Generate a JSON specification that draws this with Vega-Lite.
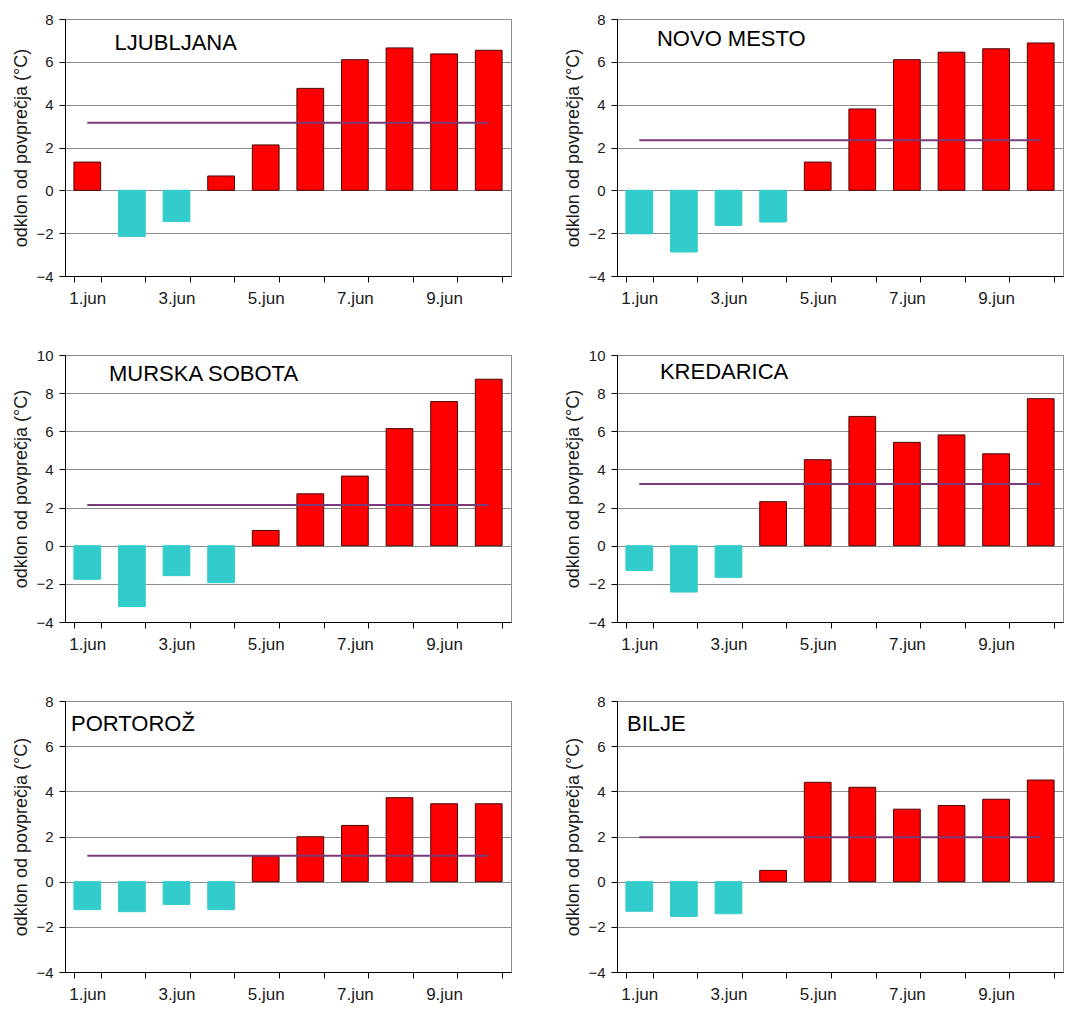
{
  "$schema": "https://vega.github.io/schema/vega-lite/v6.json",
  "padding": {"left": 12, "top": 11, "right": 0, "bottom": 0},
  "background": "white",
  "data": {"values": [
    {"station": "LJUBLJANA", "day": "1.jun", "value": 1.32, "mean": 3.16},
    {"station": "LJUBLJANA", "day": "2.jun", "value": -2.15, "mean": 3.16},
    {"station": "LJUBLJANA", "day": "3.jun", "value": -1.46, "mean": 3.16},
    {"station": "LJUBLJANA", "day": "4.jun", "value": 0.67, "mean": 3.16},
    {"station": "LJUBLJANA", "day": "5.jun", "value": 2.12, "mean": 3.16},
    {"station": "LJUBLJANA", "day": "6.jun", "value": 4.76, "mean": 3.16},
    {"station": "LJUBLJANA", "day": "7.jun", "value": 6.10, "mean": 3.16},
    {"station": "LJUBLJANA", "day": "8.jun", "value": 6.65, "mean": 3.16},
    {"station": "LJUBLJANA", "day": "9.jun", "value": 6.37, "mean": 3.16},
    {"station": "LJUBLJANA", "day": "10.jun", "value": 6.54, "mean": 3.16},
    {"station": "NOVO MESTO", "day": "1.jun", "value": -2.03, "mean": 2.34},
    {"station": "NOVO MESTO", "day": "2.jun", "value": -2.88, "mean": 2.34},
    {"station": "NOVO MESTO", "day": "3.jun", "value": -1.64, "mean": 2.34},
    {"station": "NOVO MESTO", "day": "4.jun", "value": -1.48, "mean": 2.34},
    {"station": "NOVO MESTO", "day": "5.jun", "value": 1.32, "mean": 2.34},
    {"station": "NOVO MESTO", "day": "6.jun", "value": 3.80, "mean": 2.34},
    {"station": "NOVO MESTO", "day": "7.jun", "value": 6.10, "mean": 2.34},
    {"station": "NOVO MESTO", "day": "8.jun", "value": 6.45, "mean": 2.34},
    {"station": "NOVO MESTO", "day": "9.jun", "value": 6.61, "mean": 2.34},
    {"station": "NOVO MESTO", "day": "10.jun", "value": 6.88, "mean": 2.34},
    {"station": "MURSKA SOBOTA", "day": "1.jun", "value": -1.76, "mean": 2.13},
    {"station": "MURSKA SOBOTA", "day": "2.jun", "value": -3.19, "mean": 2.13},
    {"station": "MURSKA SOBOTA", "day": "3.jun", "value": -1.57, "mean": 2.13},
    {"station": "MURSKA SOBOTA", "day": "4.jun", "value": -1.94, "mean": 2.13},
    {"station": "MURSKA SOBOTA", "day": "5.jun", "value": 0.80, "mean": 2.13},
    {"station": "MURSKA SOBOTA", "day": "6.jun", "value": 2.72, "mean": 2.13},
    {"station": "MURSKA SOBOTA", "day": "7.jun", "value": 3.65, "mean": 2.13},
    {"station": "MURSKA SOBOTA", "day": "8.jun", "value": 6.14, "mean": 2.13},
    {"station": "MURSKA SOBOTA", "day": "9.jun", "value": 7.56, "mean": 2.13},
    {"station": "MURSKA SOBOTA", "day": "10.jun", "value": 8.73, "mean": 2.13},
    {"station": "KREDARICA", "day": "1.jun", "value": -1.30, "mean": 3.24},
    {"station": "KREDARICA", "day": "2.jun", "value": -2.43, "mean": 3.24},
    {"station": "KREDARICA", "day": "3.jun", "value": -1.66, "mean": 3.24},
    {"station": "KREDARICA", "day": "4.jun", "value": 2.31, "mean": 3.24},
    {"station": "KREDARICA", "day": "5.jun", "value": 4.51, "mean": 3.24},
    {"station": "KREDARICA", "day": "6.jun", "value": 6.78, "mean": 3.24},
    {"station": "KREDARICA", "day": "7.jun", "value": 5.42, "mean": 3.24},
    {"station": "KREDARICA", "day": "8.jun", "value": 5.81, "mean": 3.24},
    {"station": "KREDARICA", "day": "9.jun", "value": 4.82, "mean": 3.24},
    {"station": "KREDARICA", "day": "10.jun", "value": 7.71, "mean": 3.24},
    {"station": "PORTOROŽ", "day": "1.jun", "value": -1.24, "mean": 1.15},
    {"station": "PORTOROŽ", "day": "2.jun", "value": -1.33, "mean": 1.15},
    {"station": "PORTOROŽ", "day": "3.jun", "value": -1.01, "mean": 1.15},
    {"station": "PORTOROŽ", "day": "4.jun", "value": -1.24, "mean": 1.15},
    {"station": "PORTOROŽ", "day": "5.jun", "value": 1.12, "mean": 1.15},
    {"station": "PORTOROŽ", "day": "6.jun", "value": 1.99, "mean": 1.15},
    {"station": "PORTOROŽ", "day": "7.jun", "value": 2.49, "mean": 1.15},
    {"station": "PORTOROŽ", "day": "8.jun", "value": 3.72, "mean": 1.15},
    {"station": "PORTOROŽ", "day": "9.jun", "value": 3.45, "mean": 1.15},
    {"station": "PORTOROŽ", "day": "10.jun", "value": 3.45, "mean": 1.15},
    {"station": "BILJE", "day": "1.jun", "value": -1.31, "mean": 1.97},
    {"station": "BILJE", "day": "2.jun", "value": -1.54, "mean": 1.97},
    {"station": "BILJE", "day": "3.jun", "value": -1.42, "mean": 1.97},
    {"station": "BILJE", "day": "4.jun", "value": 0.50, "mean": 1.97},
    {"station": "BILJE", "day": "5.jun", "value": 4.40, "mean": 1.97},
    {"station": "BILJE", "day": "6.jun", "value": 4.18, "mean": 1.97},
    {"station": "BILJE", "day": "7.jun", "value": 3.21, "mean": 1.97},
    {"station": "BILJE", "day": "8.jun", "value": 3.37, "mean": 1.97},
    {"station": "BILJE", "day": "9.jun", "value": 3.65, "mean": 1.97},
    {"station": "BILJE", "day": "10.jun", "value": 4.50, "mean": 1.97}
  ]},
  "bounds": "flush",
  "columns": 2,
  "spacing": {"row": 79, "column": 106},
  "concat": [
    {
      "width": 446, "height": 257,
      "transform": [{"filter": "datum.station == 'LJUBLJANA'"}],
      "encoding": {"x": {"field": "day", "type": "ordinal", "sort": null, "title": null, "scale": {"paddingInner": 0.4, "paddingOuter": 0.2}}},
      "layer": [
        {
          "mark": {"type": "bar", "strokeWidth": 1},
          "encoding": {
            "y": {"field": "value", "type": "quantitative", "title": "odklon od povprečja (°C)", "scale": {"domain": [-4, 8], "nice": false}, "axis": {"values": [-4, -2, 0, 2, 4, 6, 8]}},
            "fill": {"condition": {"test": "datum.value < 0", "value": "#33CCCC"}, "value": "#FF0000"},
            "stroke": {"condition": {"test": "datum.value < 0", "value": "#33CCCC"}, "value": "#4a0808"}
          }
        },
        {
          "mark": {"type": "line", "color": "#7a3b78", "strokeWidth": 2},
          "encoding": {"y": {"field": "mean", "type": "quantitative", "title": "odklon od povprečja (°C)", "scale": {"domain": [-4, 8], "nice": false}, "axis": {"values": [-4, -2, 0, 2, 4, 6, 8]}}}
        },
        {
          "transform": [{"filter": "datum.day == '1.jun'"}],
          "mark": {"type": "text", "align": "left", "baseline": "middle", "fontSize": 22, "color": "#000"},
          "encoding": {"x": {"datum": "1.jun", "bandPosition": 1.52}, "y": {"datum": 6.9}, "text": {"field": "station"}}
        }
      ]
    },
    {
      "width": 446, "height": 257,
      "transform": [{"filter": "datum.station == 'NOVO MESTO'"}],
      "encoding": {"x": {"field": "day", "type": "ordinal", "sort": null, "title": null, "scale": {"paddingInner": 0.4, "paddingOuter": 0.2}}},
      "layer": [
        {
          "mark": {"type": "bar", "strokeWidth": 1},
          "encoding": {
            "y": {"field": "value", "type": "quantitative", "title": "odklon od povprečja (°C)", "scale": {"domain": [-4, 8], "nice": false}, "axis": {"values": [-4, -2, 0, 2, 4, 6, 8]}},
            "fill": {"condition": {"test": "datum.value < 0", "value": "#33CCCC"}, "value": "#FF0000"},
            "stroke": {"condition": {"test": "datum.value < 0", "value": "#33CCCC"}, "value": "#4a0808"}
          }
        },
        {
          "mark": {"type": "line", "color": "#7a3b78", "strokeWidth": 2},
          "encoding": {"y": {"field": "mean", "type": "quantitative", "title": "odklon od povprečja (°C)", "scale": {"domain": [-4, 8], "nice": false}, "axis": {"values": [-4, -2, 0, 2, 4, 6, 8]}}}
        },
        {
          "transform": [{"filter": "datum.day == '1.jun'"}],
          "mark": {"type": "text", "align": "left", "baseline": "middle", "fontSize": 22, "color": "#000"},
          "encoding": {"x": {"datum": "1.jun", "bandPosition": 1.16}, "y": {"datum": 7.05}, "text": {"field": "station"}}
        }
      ]
    },
    {
      "width": 446, "height": 267,
      "transform": [{"filter": "datum.station == 'MURSKA SOBOTA'"}],
      "encoding": {"x": {"field": "day", "type": "ordinal", "sort": null, "title": null, "scale": {"paddingInner": 0.4, "paddingOuter": 0.2}}},
      "layer": [
        {
          "mark": {"type": "bar", "strokeWidth": 1},
          "encoding": {
            "y": {"field": "value", "type": "quantitative", "title": "odklon od povprečja (°C)", "scale": {"domain": [-4, 10], "nice": false}, "axis": {"values": [-4, -2, 0, 2, 4, 6, 8, 10]}},
            "fill": {"condition": {"test": "datum.value < 0", "value": "#33CCCC"}, "value": "#FF0000"},
            "stroke": {"condition": {"test": "datum.value < 0", "value": "#33CCCC"}, "value": "#4a0808"}
          }
        },
        {
          "mark": {"type": "line", "color": "#7a3b78", "strokeWidth": 2},
          "encoding": {"y": {"field": "mean", "type": "quantitative", "title": "odklon od povprečja (°C)", "scale": {"domain": [-4, 10], "nice": false}, "axis": {"values": [-4, -2, 0, 2, 4, 6, 8, 10]}}}
        },
        {
          "transform": [{"filter": "datum.day == '1.jun'"}],
          "mark": {"type": "text", "align": "left", "baseline": "middle", "fontSize": 22, "color": "#000"},
          "encoding": {"x": {"datum": "1.jun", "bandPosition": 1.31}, "y": {"datum": 9.0}, "text": {"field": "station"}}
        }
      ]
    },
    {
      "width": 446, "height": 267,
      "transform": [{"filter": "datum.station == 'KREDARICA'"}],
      "encoding": {"x": {"field": "day", "type": "ordinal", "sort": null, "title": null, "scale": {"paddingInner": 0.4, "paddingOuter": 0.2}}},
      "layer": [
        {
          "mark": {"type": "bar", "strokeWidth": 1},
          "encoding": {
            "y": {"field": "value", "type": "quantitative", "title": "odklon od povprečja (°C)", "scale": {"domain": [-4, 10], "nice": false}, "axis": {"values": [-4, -2, 0, 2, 4, 6, 8, 10]}},
            "fill": {"condition": {"test": "datum.value < 0", "value": "#33CCCC"}, "value": "#FF0000"},
            "stroke": {"condition": {"test": "datum.value < 0", "value": "#33CCCC"}, "value": "#4a0808"}
          }
        },
        {
          "mark": {"type": "line", "color": "#7a3b78", "strokeWidth": 2},
          "encoding": {"y": {"field": "mean", "type": "quantitative", "title": "odklon od povprečja (°C)", "scale": {"domain": [-4, 10], "nice": false}, "axis": {"values": [-4, -2, 0, 2, 4, 6, 8, 10]}}}
        },
        {
          "transform": [{"filter": "datum.day == '1.jun'"}],
          "mark": {"type": "text", "align": "left", "baseline": "middle", "fontSize": 22, "color": "#000"},
          "encoding": {"x": {"datum": "1.jun", "bandPosition": 1.27}, "y": {"datum": 9.1}, "text": {"field": "station"}}
        }
      ]
    },
    {
      "width": 446, "height": 271,
      "transform": [{"filter": "datum.station == 'PORTOROŽ'"}],
      "encoding": {"x": {"field": "day", "type": "ordinal", "sort": null, "title": null, "scale": {"paddingInner": 0.4, "paddingOuter": 0.2}}},
      "layer": [
        {
          "mark": {"type": "bar", "strokeWidth": 1},
          "encoding": {
            "y": {"field": "value", "type": "quantitative", "title": "odklon od povprečja (°C)", "scale": {"domain": [-4, 8], "nice": false}, "axis": {"values": [-4, -2, 0, 2, 4, 6, 8]}},
            "fill": {"condition": {"test": "datum.value < 0", "value": "#33CCCC"}, "value": "#FF0000"},
            "stroke": {"condition": {"test": "datum.value < 0", "value": "#33CCCC"}, "value": "#4a0808"}
          }
        },
        {
          "mark": {"type": "line", "color": "#7a3b78", "strokeWidth": 2},
          "encoding": {"y": {"field": "mean", "type": "quantitative", "title": "odklon od povprečja (°C)", "scale": {"domain": [-4, 8], "nice": false}, "axis": {"values": [-4, -2, 0, 2, 4, 6, 8]}}}
        },
        {
          "transform": [{"filter": "datum.day == '1.jun'"}],
          "mark": {"type": "text", "align": "left", "baseline": "middle", "fontSize": 22, "color": "#000"},
          "encoding": {"x": {"datum": "1.jun", "bandPosition": -0.11}, "y": {"datum": 7.0}, "text": {"field": "station"}}
        }
      ]
    },
    {
      "width": 446, "height": 271,
      "transform": [{"filter": "datum.station == 'BILJE'"}],
      "encoding": {"x": {"field": "day", "type": "ordinal", "sort": null, "title": null, "scale": {"paddingInner": 0.4, "paddingOuter": 0.2}}},
      "layer": [
        {
          "mark": {"type": "bar", "strokeWidth": 1},
          "encoding": {
            "y": {"field": "value", "type": "quantitative", "title": "odklon od povprečja (°C)", "scale": {"domain": [-4, 8], "nice": false}, "axis": {"values": [-4, -2, 0, 2, 4, 6, 8]}},
            "fill": {"condition": {"test": "datum.value < 0", "value": "#33CCCC"}, "value": "#FF0000"},
            "stroke": {"condition": {"test": "datum.value < 0", "value": "#33CCCC"}, "value": "#4a0808"}
          }
        },
        {
          "mark": {"type": "line", "color": "#7a3b78", "strokeWidth": 2},
          "encoding": {"y": {"field": "mean", "type": "quantitative", "title": "odklon od povprečja (°C)", "scale": {"domain": [-4, 8], "nice": false}, "axis": {"values": [-4, -2, 0, 2, 4, 6, 8]}}}
        },
        {
          "transform": [{"filter": "datum.day == '1.jun'"}],
          "mark": {"type": "text", "align": "left", "baseline": "middle", "fontSize": 22, "color": "#000"},
          "encoding": {"x": {"datum": "1.jun", "bandPosition": 0.04}, "y": {"datum": 7.0}, "text": {"field": "station"}}
        }
      ]
    }
  ],
  "config": {
    "font": "Liberation Sans",
    "view": {"stroke": "#8c8c8c", "strokeWidth": 1},
    "axis": {
      "domainColor": "#000",
      "tickColor": "#000",
      "labelColor": "#1a1a1a",
      "titleColor": "#1a1a1a",
      "labelFont": "Liberation Sans",
      "titleFont": "Liberation Sans",
      "titleFontWeight": "normal",
      "gridColor": "#8c8c8c",
      "gridOpacity": 1
    },
    "axisY": {"grid": true, "tickCount": 20, "format": "d", "tickSize": 6, "labelPadding": 6, "labelFontSize": 15, "labelOverlap": false, "titleFontSize": 18, "titlePadding": 5},
    "axisX": {
      "grid": false,
      "tickBand": "extent",
      "tickSize": 6,
      "labelAngle": 0,
      "labelFontSize": 17,
      "labelPadding": 8,
      "labelOverlap": false,
      "labelExpr": "indexof(['1.jun','3.jun','5.jun','7.jun','9.jun'], datum.label) >= 0 ? datum.label : ''"
    }
  }
}
